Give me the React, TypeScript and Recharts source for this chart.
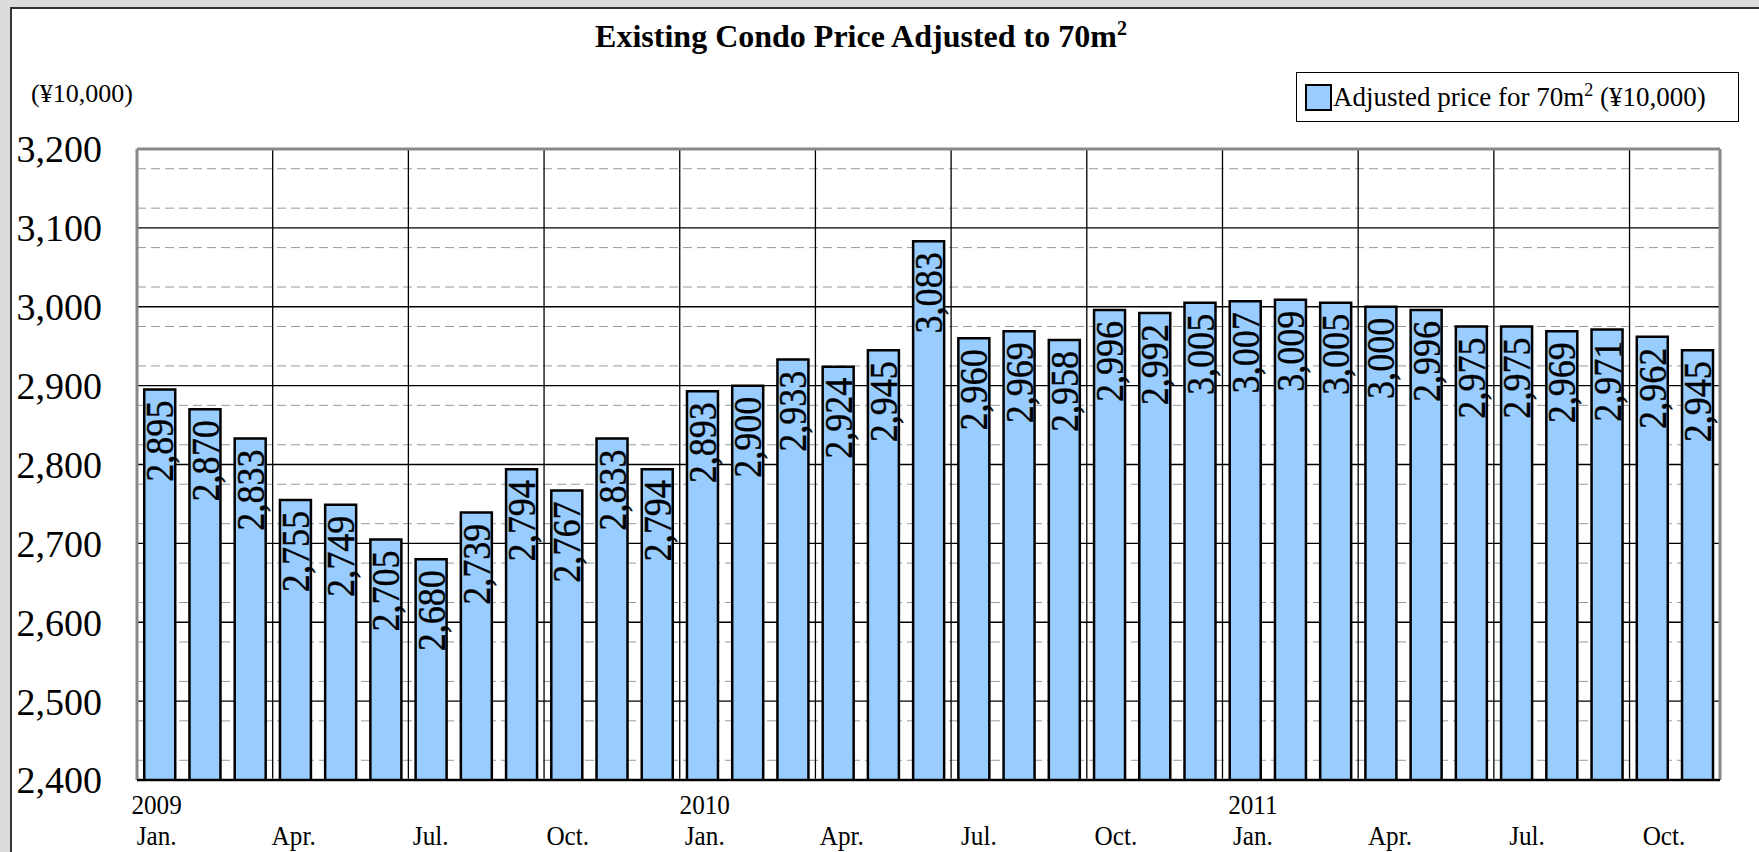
import React from "react";
import { BarChart, Bar, XAxis, YAxis, CartesianGrid, LabelList } from "recharts";

const periods = [
  "2009-01", "2009-02", "2009-03", "2009-04", "2009-05", "2009-06",
  "2009-07", "2009-08", "2009-09", "2009-10", "2009-11", "2009-12",
  "2010-01", "2010-02", "2010-03", "2010-04", "2010-05", "2010-06",
  "2010-07", "2010-08", "2010-09", "2010-10", "2010-11", "2010-12",
  "2011-01", "2011-02", "2011-03", "2011-04", "2011-05", "2011-06",
  "2011-07", "2011-08", "2011-09", "2011-10", "2011-11",
];

const prices = [
  2895, 2870, 2833, 2755, 2749, 2705, 2680, 2739, 2794, 2767, 2833, 2794,
  2893, 2900, 2933, 2924, 2945, 3083, 2960, 2969, 2958, 2996, 2992, 3005,
  3007, 3009, 3005, 3000, 2996, 2975, 2975, 2969, 2971, 2962, 2945,
];

const quarterMonthLabels: Record<string, string> = {
  "01": "Jan.",
  "04": "Apr.",
  "07": "Jul.",
  "10": "Oct.",
};

const yTicks = [2400, 2500, 2600, 2700, 2800, 2900, 3000, 3100, 3200];

const data = periods.map((period, i) => ({ period, price: prices[i] }));

const FONT = "'Liberation Serif', 'Times New Roman', serif";
const BAR_FILL = "#99CCFF";

// gridline positions
const majorLines = yTicks.slice(1, -1);
const minorLines = yTicks.slice(0, -1).flatMap((v) => [v + 25, v + 50, v + 75]);

const quarterLines = ({ offset }: any) => {
  const step = offset.width / periods.length;
  const out: number[] = [];
  for (let i = 3; i < periods.length; i += 3) out.push(offset.left + i * step);
  return out;
};

const edgeLines = ({ offset }: any) => [offset.left, offset.left + offset.width];

const MonthTick = (props: any) => {
  const { x, y, payload } = props;
  const index = payload?.index ?? props.index ?? 0;
  const [year, month] = String(payload.value).split("-");
  const label = quarterMonthLabels[month];
  if (!label) return <g />;
  const cx = x - 3 + index * 0.45;
  return (
    <g fontFamily="Liberation Serif" fontSize={28} fill="#000">
      {month === "01" && (
        <text transform={`translate(${cx},${y + 32}) scale(0.9,1)`} textAnchor="middle">
          {year}
        </text>
      )}
      <text transform={`translate(${cx},${y + 63}) scale(0.9,1)`} textAnchor="middle">
        {label}
      </text>
    </g>
  );
};

// labels inside the bar top, rotated and slightly condensed like the source
const BarValueLabel = (props: any) => {
  const { x, y, width, value } = props;
  const cx = Number(x) + Number(width) / 2;
  const ty = Number(y) + 11;
  return (
    <text
      x={0}
      y={0}
      dy="0.33em"
      textAnchor="end"
      transform={`translate(${cx},${ty}) rotate(-90) scale(0.88,1)`}
      fontSize={41}
      fontFamily="Liberation Serif"
      fill="#000"
      stroke="#000"
      strokeWidth={0.4}
    >
      {Number(value).toLocaleString("en-US")}
    </text>
  );
};

const App = () => {
  return (
    <div
      style={{
        position: "absolute",
        left: 0,
        top: 0,
        width: 1759,
        height: 852,
        background: "#DCDCDC",
        overflow: "hidden",
        fontFamily: FONT,
      }}
    >
      <div
        style={{
          position: "absolute",
          left: 10,
          top: 7,
          width: 1800,
          height: 900,
          background: "#fff",
          border: "2px solid #333",
        }}
      />
      <div
        style={{
          position: "absolute",
          top: 20,
          left: 0,
          width: 1722,
          textAlign: "center",
          fontSize: 32,
          fontWeight: "bold",
          lineHeight: "32px",
        }}
      >
        Existing Condo Price Adjusted to 70m
        <sup style={{ fontSize: 20, verticalAlign: "super", lineHeight: 0 }}>2</sup>
      </div>
      <div style={{ position: "absolute", left: 31, top: 80, fontSize: 26, lineHeight: "28px" }}>
        (¥10,000)
      </div>
      <div
        style={{
          position: "absolute",
          left: 1296,
          top: 72,
          width: 443,
          height: 50,
          boxSizing: "border-box",
          border: "1px solid #000",
          background: "#fff",
          display: "flex",
          alignItems: "center",
          paddingLeft: 8,
        }}
      >
        <div
          style={{
            width: 27,
            height: 27,
            boxSizing: "border-box",
            border: "2.5px solid #000",
            background: BAR_FILL,
            flex: "none",
          }}
        />
        <span style={{ fontSize: 27, marginLeft: 1, whiteSpace: "nowrap" }}>
          Adjusted price for 70m
          <sup style={{ fontSize: 18, verticalAlign: "super", lineHeight: 0 }}>2</sup> (¥10,000)
        </span>
      </div>
      <div style={{ position: "absolute", left: 0, top: 0 }}>
        <BarChart
          width={1759}
          height={852}
          data={data}
          margin={{ top: 149, right: 39, bottom: 0, left: 27 }}
          barCategoryGap="16%"
        >
          <CartesianGrid
            vertical={false}
            horizontalValues={minorLines}
            stroke="#999"
            strokeDasharray="9 5"
          />
          <CartesianGrid
            horizontalValues={majorLines}
            verticalCoordinatesGenerator={quarterLines}
            stroke="#000"
            strokeWidth={1.3}
          />
          <CartesianGrid
            horizontalValues={[2400, 3200]}
            verticalCoordinatesGenerator={edgeLines}
            stroke="#888"
            strokeWidth={3}
          />
          <XAxis
            dataKey="period"
            interval={0}
            height={72}
            tickLine={false}
            tickSize={0}
            tick={(p: any) => <MonthTick {...p} />}
            axisLine={{ stroke: "#000", strokeWidth: 2 }}
          />
          <YAxis
            domain={[2400, 3200]}
            ticks={yTicks}
            width={110}
            allowDataOverflow
            axisLine={false}
            tickLine={false}
            tickSize={0}
            tickMargin={35}
            tickFormatter={(v: number) => v.toLocaleString("en-US")}
            tick={{ fontSize: 38, fill: "#000", fontFamily: "Liberation Serif" }}
          />
          <Bar
            dataKey="price"
            fill={BAR_FILL}
            stroke="#000"
            strokeWidth={2.5}
            isAnimationActive={false}
          >
            <LabelList dataKey="price" content={(p: any) => <BarValueLabel {...p} />} />
          </Bar>
        </BarChart>
      </div>
    </div>
  );
};

export default App;
